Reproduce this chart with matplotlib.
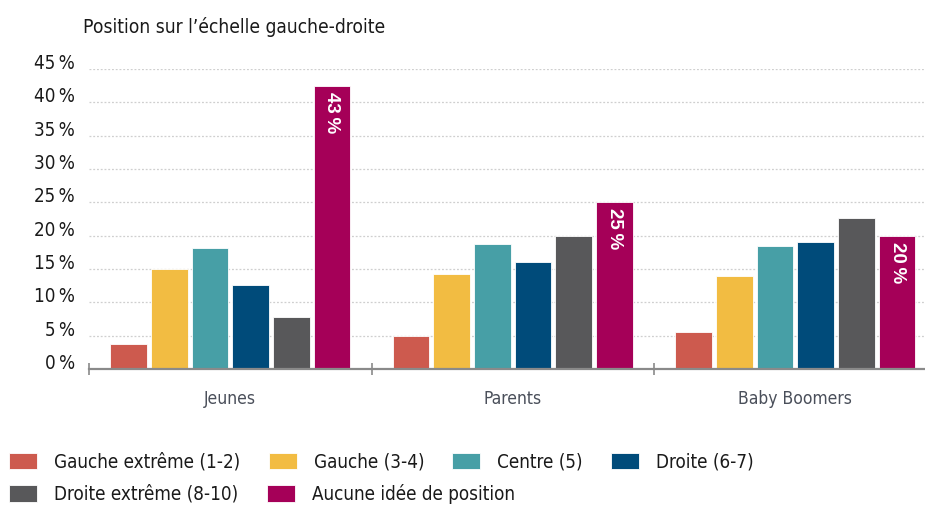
import matplotlib
matplotlib.use('Agg')
import numpy as np
import matplotlib.pyplot as plt
from matplotlib import font_manager

groups = ['Jeunes', 'Parents', 'Baby Boomers']
series = ['Gauche extrême (1-2)', 'Gauche (3-4)', 'Centre (5)', 'Droite (6-7)',
          'Droite extrême (8-10)', 'Aucune idée de position']
gauche_extreme = [3.8, 5.0, 5.5]
gauche = [15.0, 14.3, 13.9]
centre = [18.2, 18.8, 18.4]
droite = [12.6, 16.1, 19.0]
droite_extreme = [7.8, 20.0, 22.6]
aucune_idee = [42.5, 25.0, 20.0]
aucune_labels = ['43\u2009%', '25\u2009%', '20\u2009%']
colors = ['#CD5A4E', '#F2BC42', '#479FA6', '#004B7A', '#58585A', '#A50058']

names = {f.name for f in font_manager.fontManager.ttflist}
narrow = 'Liberation Sans Narrow' if 'Liberation Sans Narrow' in names else 'DejaVu Sans'
plt.rcParams['font.family'] = [narrow, 'DejaVu Sans']
plt.rcParams['font.stretch'] = 'condensed'

fig = plt.figure(figsize=(9.25, 5.07), dpi=100)
ax = fig.add_axes([89 / 925, 138 / 507, 1 - 89 / 925, 300 / 507])

values = [gauche_extreme, gauche, centre, droite, droite_extreme, aucune_idee]
x = np.arange(len(groups))
pitch = 0.144
width = 0.13
handles = []
for k, vals in enumerate(values):
    b = ax.bar(x + (k - 2.5) * pitch, vals, width, color=colors[k],
               edgecolor='white', linewidth=0.6, label=series[k], zorder=3)
    handles.append(b)

# value labels on the last series
for xi, v, lab in zip(x, aucune_idee, aucune_labels):
    ax.text(xi + 2.5 * pitch, v - 0.9, lab, rotation=270, color='white',
            ha='center', va='top', fontsize=13.5, fontweight='bold',
            family=['Liberation Sans', 'DejaVu Sans'], fontstretch='normal', zorder=4)

ax.set_xlim(-0.5, 2.459)
ax.set_ylim(0, 45)
ax.set_yticks(np.arange(0, 50, 5))
ax.set_yticklabels(['%d\u2009%%' % t for t in range(0, 50, 5)], fontsize=13.5,
                   color='#1a1a1a', va='baseline')
for t in range(5, 50, 5):
    ax.axhline(t, color='#cfcfcf', linestyle=(0, (1.5, 1.5)), linewidth=0.9, zorder=1)

ax.set_xticks(x)
ax.set_xticklabels(groups, fontsize=12.5, color='#4a4f5a')
ax.set_xticks([-0.5, 0.5, 1.5], minor=True)
ax.tick_params(axis='x', which='major', length=0, pad=15)
ax.tick_params(axis='x', which='minor', length=8, direction='inout', color='#8a8a8a', width=1.2)
ax.tick_params(axis='y', length=0, pad=10)

for s in ['top', 'right', 'left']:
    ax.spines[s].set_visible(False)
ax.spines['bottom'].set_color('#8a8a8a')
ax.spines['bottom'].set_linewidth(1.6)
ax.spines['bottom'].set_zorder(5)

fig.text(83 / 925, 1 - 27 / 507, "Position sur l\u2019échelle gauche-droite",
         fontsize=13.8, color='#1a1a1a', va='center', ha='left')

leg_kw = dict(loc='center left', frameon=False, fontsize=13.5, handlelength=1.5,
              handleheight=1.0, handletextpad=0.9, columnspacing=1.5,
              borderaxespad=0, borderpad=0.3)
leg1 = fig.legend(handles[:4], series[:4], ncol=4,
                  bbox_to_anchor=(0.004, 1 - 462 / 507), **leg_kw)
leg2 = fig.legend(handles[4:], series[4:], ncol=2,
                  bbox_to_anchor=(0.004, 1 - 494 / 507), **leg_kw)
for leg in (leg1, leg2):
    for txt in leg.get_texts():
        txt.set_color('#1a1a1a')

fig.savefig('out.png', dpi=100)
